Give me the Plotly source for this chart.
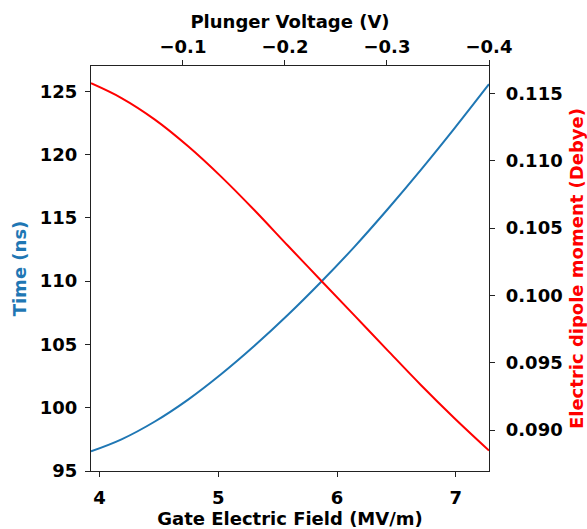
import plotly.graph_objects as go

# Gate electric field (MV/m)
field = [3.928, 4.185, 4.466, 4.746, 5.026, 5.307, 5.587, 5.867, 6.148, 6.428, 6.708, 6.989, 7.28]
# Time (ns)
time_ns = [96.55, 97.50, 98.91, 100.64, 102.66, 104.91, 107.34, 109.95, 112.73, 115.70, 118.81, 122.07, 125.56]
# Electric dipole moment (Debye)
dipole = [0.11575, 0.11465, 0.11305, 0.11107, 0.10880, 0.10630, 0.10368, 0.10109, 0.09850, 0.09590, 0.09333, 0.09088, 0.08848]
# Plunger voltage (V), top axis extent and ticks
plunger = [-0.0099, -0.4]
plunger_ticks = [-0.1, -0.2, -0.3, -0.4]

FONT = "DejaVu Sans"
BLUE = "#1f77b4"
RED = "#ff0000"
AX = "#222222"

fig = go.Figure()
fig.add_trace(go.Scatter(x=field, y=time_ns, mode="lines", line=dict(color=BLUE, width=2, shape="spline"),
                         xaxis="x", yaxis="y", showlegend=False))
fig.add_trace(go.Scatter(x=field, y=dipole, mode="lines", line=dict(color=RED, width=2, shape="spline"),
                         xaxis="x", yaxis="y2", showlegend=False))
fig.add_trace(go.Scatter(x=plunger, y=[None, None], mode="lines", xaxis="x2", yaxis="y",
                         showlegend=False, hoverinfo="skip"))

tickfont = dict(family=FONT, size=18, color="black", weight="bold")
common = dict(showline=True, linecolor=AX, linewidth=1.3, ticks="outside", ticklen=5, tickwidth=1.2,
              tickcolor=AX, showgrid=False, zeroline=False, tickfont=tickfont, automargin=False)


def tfont(color):
    return dict(family=FONT, size=18, color=color, weight="bold")


fig.update_layout(
    width=587, height=529,
    margin=dict(l=91, r=98, t=66, b=58, autoexpand=False),
    paper_bgcolor="white", plot_bgcolor="white",
    xaxis=dict(range=[3.928, 7.28], tickvals=[4, 5, 6, 7], ticklabelstandoff=5,
               title=dict(text="Gate Electric Field (MV/m)", font=tfont("black"), standoff=6),
               **common),
    xaxis2=dict(range=plunger, tickvals=plunger_ticks, overlaying="x", side="top", anchor="y",
                ticklabelstandoff=0,
                title=dict(text="Plunger Voltage (V)", font=tfont("black"), standoff=2),
                **common),
    yaxis=dict(range=[95, 127], tickvals=[95, 100, 105, 110, 115, 120, 125], ticklabelstandoff=4,
               title=dict(text="Time (ns)", font=tfont(BLUE), standoff=8),
               **common),
    yaxis2=dict(range=[0.08696, 0.11703], tickvals=[0.09, 0.095, 0.1, 0.105, 0.11, 0.115], tickformat=".3f",
                overlaying="y", side="right", anchor="x", ticklabelstandoff=7,
                title=dict(text="Electric dipole moment (Debye)", font=tfont(RED), standoff=8),
                **common),
)

fig.write_html("out.html")
